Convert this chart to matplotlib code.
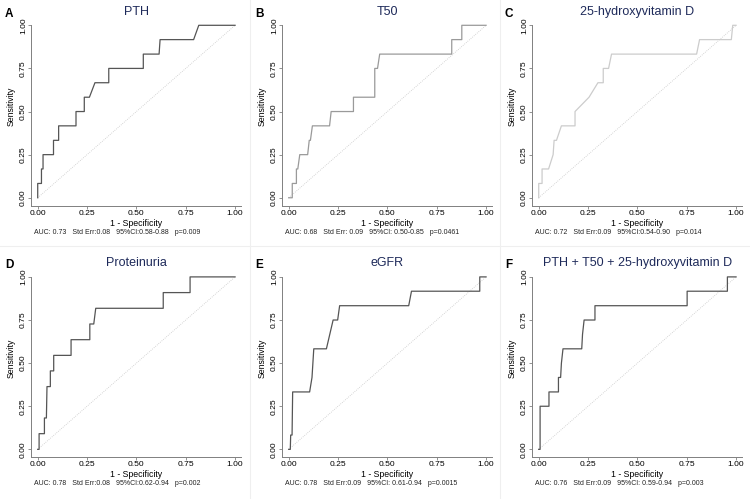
import matplotlib
matplotlib.use("Agg")
import matplotlib.pyplot as plt
from matplotlib.transforms import blended_transform_factory
from matplotlib.lines import Line2D

plt.rcParams["font.family"] = ["Liberation Sans", "DejaVu Sans"]

# ROC curve vertices (1 - specificity, sensitivity)
pth_fpr = [0, 0, 0.019, 0.019, 0.027, 0.027, 0.08, 0.08, 0.106, 0.106, 0.194, 0.194,
           0.236, 0.236, 0.262, 0.29, 0.36, 0.36, 0.535, 0.535, 0.615, 0.62, 0.79, 0.816, 1.0]
pth_tpr = [0, 0.083, 0.083, 0.167, 0.167, 0.25, 0.25, 0.333, 0.333, 0.417, 0.417, 0.5,
           0.5, 0.583, 0.583, 0.667, 0.667, 0.75, 0.75, 0.833, 0.833, 0.917, 0.917, 1.0, 1.0]

t50_fpr = [0, 0.018, 0.018, 0.039, 0.039, 0.046, 0.056, 0.096, 0.104, 0.11, 0.12, 0.207,
           0.215, 0.328, 0.328, 0.436, 0.436, 0.45, 0.461, 0.826, 0.826, 0.877, 0.877, 1.0]
t50_tpr = [0, 0, 0.083, 0.083, 0.167, 0.167, 0.25, 0.25, 0.333, 0.333, 0.417, 0.417,
           0.5, 0.5, 0.583, 0.583, 0.75, 0.75, 0.833, 0.833, 0.917, 0.917, 1.0, 1.0]

vitd_fpr = [0, 0, 0.017, 0.017, 0.05, 0.073, 0.078, 0.09, 0.115, 0.184, 0.184, 0.255,
            0.30, 0.327, 0.327, 0.354, 0.369, 0.80, 0.815, 0.976, 0.983, 1.0]
vitd_tpr = [0, 0.083, 0.083, 0.167, 0.167, 0.25, 0.333, 0.333, 0.417, 0.417, 0.5, 0.583,
            0.667, 0.667, 0.75, 0.75, 0.833, 0.833, 0.917, 0.917, 1.0, 1.0]

prot_fpr = [0, 0.007, 0.007, 0.034, 0.034, 0.044, 0.047, 0.064, 0.064, 0.081, 0.081, 0.169,
            0.169, 0.264, 0.264, 0.284, 0.294, 0.636, 0.636, 0.772, 0.772, 1.0]
prot_tpr = [0, 0, 0.091, 0.091, 0.182, 0.182, 0.364, 0.364, 0.455, 0.455, 0.545, 0.545,
            0.636, 0.636, 0.727, 0.727, 0.818, 0.818, 0.909, 0.909, 1.0, 1.0]

egfr_fpr = [0, 0.008, 0.01, 0.017, 0.02, 0.106, 0.118, 0.127, 0.191, 0.225, 0.248, 0.258,
            0.608, 0.622, 0.968, 0.968, 1.0]
egfr_tpr = [0, 0, 0.083, 0.083, 0.333, 0.333, 0.417, 0.583, 0.583, 0.75, 0.75, 0.833,
            0.833, 0.917, 0.917, 1.0, 1.0]

comb_fpr = [0, 0.007, 0.007, 0.052, 0.052, 0.10, 0.10, 0.111, 0.115, 0.123, 0.218, 0.222,
            0.23, 0.285, 0.285, 0.752, 0.752, 0.956, 0.956, 1.0]
comb_tpr = [0, 0, 0.25, 0.25, 0.333, 0.333, 0.417, 0.417, 0.5, 0.583, 0.583, 0.667,
            0.75, 0.75, 0.833, 0.833, 0.917, 0.917, 1.0, 1.0]

letters = ["A", "B", "C", "D", "E", "F"]
titles = ["PTH", "T50", "25-hydroxyvitamin D", "Proteinuria", "eGFR",
          "PTH + T50 + 25-hydroxyvitamin D"]
stats = [
    "AUC: 0.73   Std Err:0.08   95%CI:0.58-0.88   p=0.009",
    "AUC: 0.68   Std Err: 0.09   95%CI: 0.50-0.85   p=0.0461",
    "AUC: 0.72   Std Err:0.09   95%CI:0.54-0.90   p=0.014",
    "AUC: 0.78   Std Err:0.08   95%CI:0.62-0.94   p=0.002",
    "AUC: 0.78   Std Err:0.09   95%CI: 0.61-0.94   p=0.0015",
    "AUC: 0.76   Std Err:0.09   95%CI: 0.59-0.94   p=0.003",
]
curves = [(pth_fpr, pth_tpr), (t50_fpr, t50_tpr), (vitd_fpr, vitd_tpr),
          (prot_fpr, prot_tpr), (egfr_fpr, egfr_tpr), (comb_fpr, comb_tpr)]
line_colors = ["#555555", "#9a9a9a", "#cccccc", "#555555", "#555555", "#555555"]

W, H = 750, 499
fig = plt.figure(figsize=(7.5, 4.99), dpi=100)

# faint panel separators
for x in (249.5, 499.5):
    fig.add_artist(Line2D([x / W, x / W], [0, 1], color="#efefef", lw=0.8))
fig.add_artist(Line2D([0, 1], [1 - 246 / H, 1 - 246 / H], color="#efefef", lw=0.8))

col_left = [31, 282, 532]       # left spine, px
row_bottom = [205.7, 457.3]     # x-axis line, px from top
ax_w, ax_h = 210, 180.4

for i in range(6):
    r, c = divmod(i, 3)
    left = col_left[c]
    bot = row_bottom[r]
    ax = fig.add_axes([left / W, 1 - bot / H, ax_w / W, ax_h / H])
    ax.set_xlim(-0.034, 1.03)
    ax.set_ylim(-0.046, 1.0)

    ax.plot([0, 1], [0, 1], ls=(0, (1, 1.5)), color="#c8c8c8", lw=0.6)
    fpr, tpr = curves[i]
    ax.plot(fpr, tpr, color=line_colors[i], lw=0.9, clip_on=False)

    for s in ("top", "right"):
        ax.spines[s].set_visible(False)
    for s in ("left", "bottom"):
        ax.spines[s].set_color("#808080")
        ax.spines[s].set_linewidth(0.7)

    ticks = [0, 0.25, 0.5, 0.75, 1.0]
    ax.set_xticks(ticks)
    ax.set_yticks(ticks)
    ax.set_xticklabels([f"{t:.2f}" for t in ticks])
    ax.set_yticklabels([f"{t:.2f}" for t in ticks], rotation=90, va="center")
    ax.tick_params(length=2.2, width=0.6, color="#808080", labelsize=6.1, pad=0.6)

    ax.set_xlabel("1 - Specificity", fontsize=6.3)
    ax.set_ylabel("Sensitivity", fontsize=6.3)
    ax.xaxis.set_label_coords(0.502, -0.072)
    ax.yaxis.set_label_coords(-0.074, 0.55)

    ax.text(0.014, -0.147, stats[i], transform=ax.transAxes, fontsize=5,
            ha="left", va="center", color="#222222")

    top_px = 12 if r == 0 else 263
    trans = blended_transform_factory(ax.transData, fig.transFigure)
    ax.text(0.5, 1 - top_px / H, titles[i], transform=trans, ha="center",
            va="center", fontsize=9, color="#1e2a5a")

    letter_x = [9, 259.5, 509][c]
    letter_y = 14 if r == 0 else 265
    fig.text(letter_x / W, 1 - letter_y / H, letters[i], ha="center", va="center",
             fontsize=8.5, fontweight="bold", color="black")

fig.savefig("out.png", dpi=100)
